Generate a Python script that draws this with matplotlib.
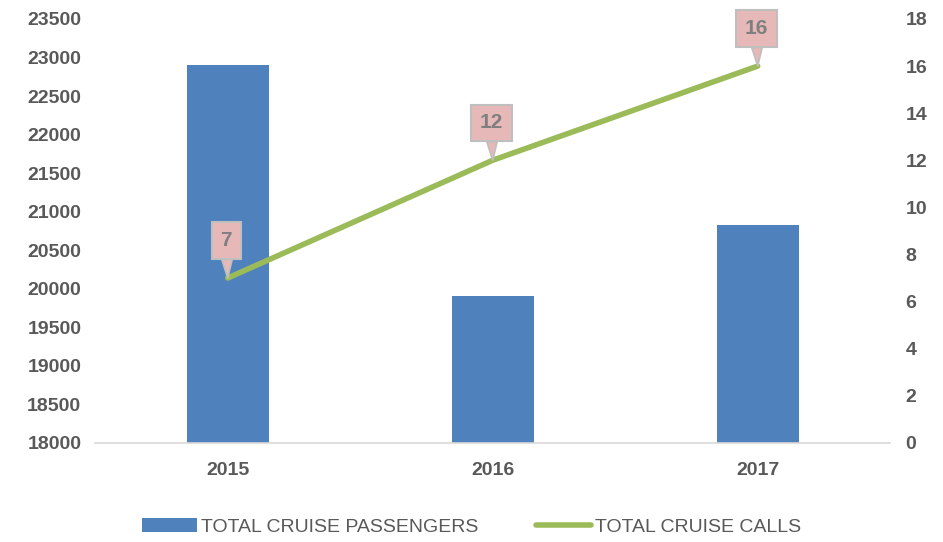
import matplotlib.pyplot as plt
import matplotlib.patches as mpatches
from matplotlib.lines import Line2D
import numpy as np

plt.rcParams['font.family'] = ['Liberation Sans', 'DejaVu Sans']

years = ['2015', '2016', '2017']
passengers = [22900, 19900, 20830]
calls = [7, 12, 16]

bar_color = '#4F81BD'
line_color = '#9BBB59'
text_gray = '#595959'

fig = plt.figure(figsize=(9.43, 5.42), dpi=100)
fig.patch.set_facecolor('white')
ax = fig.add_axes([0.101, 0.183, 0.843, 0.782])
ax2 = ax.twinx()

x = np.arange(len(years))
ax.bar(x, passengers, width=0.31, color=bar_color, zorder=2)
ax.set_xlim(-0.5, 2.5)
ax.set_ylim(18000, 23500)
ax.set_yticks(np.arange(18000, 23501, 500))
ax.set_xticks(x)
ax.set_xticklabels(years)

ax2.plot(x, calls, color=line_color, lw=4.0, solid_capstyle='round', zorder=3)
ax2.set_ylim(0, 18)
ax2.set_yticks(np.arange(0, 19, 2))

for a in (ax, ax2):
    for s in a.spines.values():
        s.set_visible(False)
    a.tick_params(length=0, labelsize=14, labelcolor=text_gray)
    for lab in a.get_xticklabels() + a.get_yticklabels():
        lab.set_fontweight('bold')
ax.spines['bottom'].set_visible(True)
ax.spines['bottom'].set_color('#D9D9D9')
ax.spines['bottom'].set_linewidth(1.2)
ax.tick_params(axis='y', pad=10)
ax.tick_params(axis='x', pad=14)
ax2.tick_params(axis='y', pad=11)

# callouts
for xi, v in zip(x, calls):
    ax2.annotate(str(v), xy=(xi, v), xytext=(-1, 27), textcoords='offset points',
                 ha='center', va='center', fontsize=15, fontweight='bold', color='#7F7F7F',
                 bbox=dict(boxstyle='square,pad=0.42', fc='#E6B9B8', ec='#BFBFBF', lw=1.5),
                 arrowprops=dict(arrowstyle='wedge,tail_width=0.5,shrink_factor=0.5',
                                 fc='#E6B9B8', ec='#BFBFBF', lw=1.2, shrinkA=0, shrinkB=0),
                 zorder=5)

handles = [
    mpatches.Patch(facecolor=bar_color, label='TOTAL CRUISE PASSENGERS'),
    Line2D([0], [0], color=line_color, lw=4.0, solid_capstyle='round', label='TOTAL CRUISE CALLS'),
]
leg = fig.legend(handles=handles, loc='center', bbox_to_anchor=(0.5, 0.028), ncol=2,
                 frameon=False, fontsize=14, handlelength=2.8, handleheight=0.75,
                 handletextpad=0.2, columnspacing=3.0)
for t in leg.get_texts():
    t.set_color(text_gray)

fig.savefig('out.png', dpi=100, facecolor='white')
